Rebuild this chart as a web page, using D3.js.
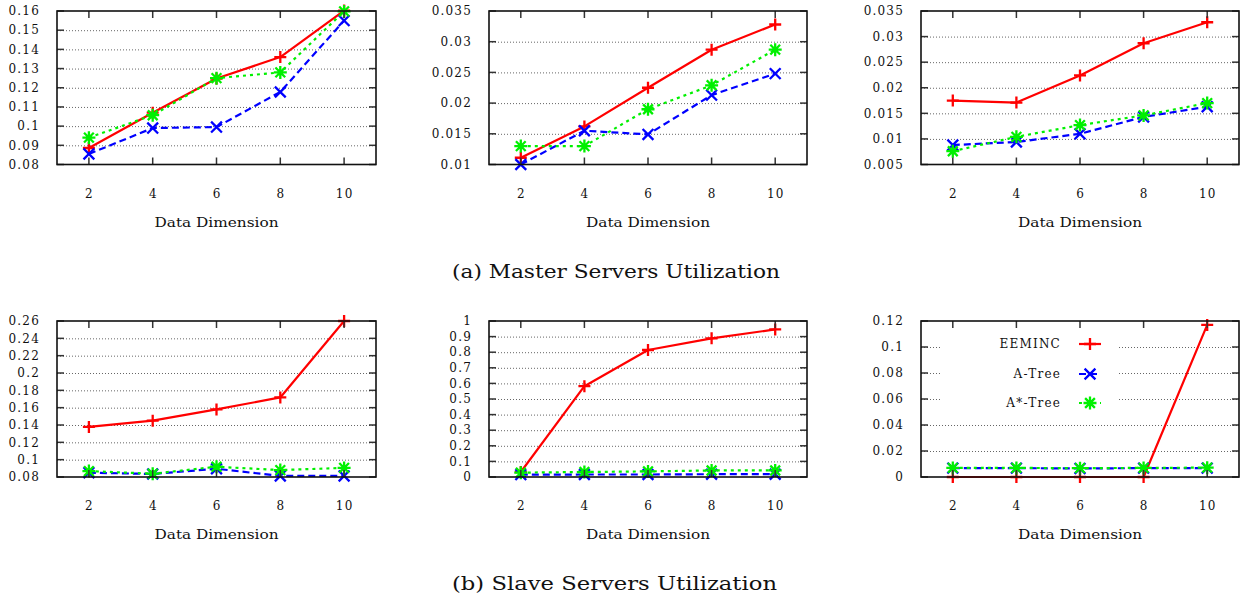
<!DOCTYPE html>
<html>
<head>
<meta charset="utf-8">
<script src="https://cdn.jsdelivr.net/npm/d3@7"></script>
<style>
  html, body { margin: 0; padding: 0; background: #fff; }
  svg { display: block; }
  text { font-family: "DejaVu Serif", serif; fill: #111; }
</style>
</head>
<body>
<svg id="chart" width="1245" height="598"></svg>
<script>
// ---------------- DATA ----------------
const dimensions = [2, 4, 6, 8, 10];
const seriesNames = ["EEMINC", "A-Tree", "A*-Tree"];

// (a) Master servers utilization
const masterP1_EEMINC = [0.0886, 0.107, 0.1248, 0.136, 0.1602];
const masterP1_ATree  = [0.0855, 0.099, 0.0995, 0.1178, 0.155];
const masterP1_AStar  = [0.094, 0.1057, 0.125, 0.128, 0.1598];

const masterP2_EEMINC = [0.0111, 0.0162, 0.0225, 0.0287, 0.0328];
const masterP2_ATree  = [0.0100, 0.0155, 0.0149, 0.0213, 0.0248];
const masterP2_AStar  = [0.0130, 0.0130, 0.0190, 0.0229, 0.0287];

const masterP3_EEMINC = [0.0175, 0.0171, 0.0224, 0.0287, 0.0328];
const masterP3_ATree  = [0.0088, 0.0094, 0.0110, 0.0143, 0.0163];
const masterP3_AStar  = [0.0076, 0.0104, 0.0127, 0.0146, 0.0170];

// (b) Slave servers utilization
const slaveP1_EEMINC = [0.1378, 0.1450, 0.1580, 0.1718, 0.2600];
const slaveP1_ATree  = [0.0850, 0.0835, 0.0895, 0.0812, 0.0812];
const slaveP1_AStar  = [0.0868, 0.0838, 0.0918, 0.0880, 0.0905];

const slaveP2_EEMINC = [0.032, 0.582, 0.814, 0.889, 0.946];
const slaveP2_ATree  = [0.015, 0.016, 0.016, 0.018, 0.018];
const slaveP2_AStar  = [0.028, 0.032, 0.036, 0.042, 0.042];

const slaveP3_EEMINC = [0, 0, 0, 0, 0.117];
const slaveP3_ATree  = [0.0068, 0.0068, 0.0066, 0.0068, 0.0068];
const slaveP3_AStar  = [0.0070, 0.0070, 0.0068, 0.0070, 0.0072];

// y-axis ticks (values and labels)
const ticksMasterP1 = [0.08, 0.09, 0.10, 0.11, 0.12, 0.13, 0.14, 0.15, 0.16];
const labelsMasterP1 = ["0.08", "0.09", "0.1", "0.11", "0.12", "0.13", "0.14", "0.15", "0.16"];
const ticksMasterP2 = [0.01, 0.015, 0.02, 0.025, 0.03, 0.035];
const labelsMasterP2 = ["0.01", "0.015", "0.02", "0.025", "0.03", "0.035"];
const ticksMasterP3 = [0.005, 0.01, 0.015, 0.02, 0.025, 0.03, 0.035];
const labelsMasterP3 = ["0.005", "0.01", "0.015", "0.02", "0.025", "0.03", "0.035"];
const ticksSlaveP1 = [0.08, 0.10, 0.12, 0.14, 0.16, 0.18, 0.20, 0.22, 0.24, 0.26];
const labelsSlaveP1 = ["0.08", "0.1", "0.12", "0.14", "0.16", "0.18", "0.2", "0.22", "0.24", "0.26"];
const ticksSlaveP2 = [0, 0.1, 0.2, 0.3, 0.4, 0.5, 0.6, 0.7, 0.8, 0.9, 1];
const labelsSlaveP2 = ["0", "0.1", "0.2", "0.3", "0.4", "0.5", "0.6", "0.7", "0.8", "0.9", "1"];
const ticksSlaveP3 = [0, 0.02, 0.04, 0.06, 0.08, 0.10, 0.12];
const labelsSlaveP3 = ["0", "0.02", "0.04", "0.06", "0.08", "0.1", "0.12"];

const xLabel = "Data Dimension";
const captionA = "(a) Master Servers Utilization";
const captionB = "(b) Slave Servers Utilization";

// ---------------- LAYOUT / STYLE ----------------
const cols = [{x0: 57, x1: 376}, {x0: 489, x1: 807}, {x0: 921, x1: 1239}];
const rows = [{y0: 11, y1: 164.5}, {y0: 321, y1: 477}];
const styles = [
  {color: "#ff0000", dash: null, marker: "plus", size: 6},
  {color: "#0000ff", dash: "7,4", marker: "cross", size: 6},
  {color: "#00f000", dash: "3,4", marker: "star", size: 6.5}
];

const panels = [
  {r: 0, c: 0, series: [masterP1_EEMINC, masterP1_ATree, masterP1_AStar], ticks: ticksMasterP1, labels: labelsMasterP1},
  {r: 0, c: 1, series: [masterP2_EEMINC, masterP2_ATree, masterP2_AStar], ticks: ticksMasterP2, labels: labelsMasterP2},
  {r: 0, c: 2, series: [masterP3_EEMINC, masterP3_ATree, masterP3_AStar], ticks: ticksMasterP3, labels: labelsMasterP3},
  {r: 1, c: 0, series: [slaveP1_EEMINC, slaveP1_ATree, slaveP1_AStar], ticks: ticksSlaveP1, labels: labelsSlaveP1},
  {r: 1, c: 1, series: [slaveP2_EEMINC, slaveP2_ATree, slaveP2_AStar], ticks: ticksSlaveP2, labels: labelsSlaveP2},
  {r: 1, c: 2, series: [slaveP3_EEMINC, slaveP3_ATree, slaveP3_AStar], ticks: ticksSlaveP3, labels: labelsSlaveP3, legend: true}
];

const svg = d3.select("#chart");

function markerPath(type, s) {
  const p = d3.path();
  if (type === "plus" || type === "star") {
    p.moveTo(-s, 0); p.lineTo(s, 0);
    p.moveTo(0, -s); p.lineTo(0, s);
  }
  if (type === "cross" || type === "star") {
    const t = type === "star" ? s * 0.75 : s * 0.9;
    p.moveTo(-t, -t); p.lineTo(t, t);
    p.moveTo(-t, t); p.lineTo(t, -t);
  }
  return p.toString();
}

panels.forEach(pn => {
  const col = cols[pn.c], row = rows[pn.r];
  const x = d3.scaleLinear().domain([1, 11]).range([col.x0, col.x1]);
  const yDom = d3.extent(pn.ticks);
  const y = d3.scaleLinear().domain(yDom).range([row.y1, row.y0]);
  const g = svg.append("g");

  // grid (horizontal dotted)
  const gridAxis = d3.axisLeft(y).tickValues(pn.ticks.filter(t => t !== yDom[0] && t !== yDom[1]))
    .tickSize(-(col.x1 - col.x0)).tickFormat("");
  const grid = g.append("g").attr("transform", `translate(${col.x0},0)`).call(gridAxis);
  grid.select(".domain").remove();
  grid.selectAll("line").attr("stroke", "#666").attr("stroke-width", 1).attr("stroke-dasharray", "1,2");

  // legend background
  if (pn.legend) {
    g.append("rect").attr("x", 940).attr("y", 329).attr("width", 177).attr("height", 86).attr("fill", "#fff");
  }

  // series lines
  pn.series.forEach((vals, i) => {
    const st = styles[i];
    const line = d3.line().x((d, k) => x(dimensions[k])).y(d => y(d));
    g.append("path").datum(vals).attr("d", line)
      .attr("fill", "none").attr("stroke", st.color).attr("stroke-width", 2.2)
      .attr("stroke-dasharray", st.dash).attr("stroke-linejoin", "round");
    g.selectAll(null).data(vals).enter().append("path")
      .attr("transform", (d, k) => `translate(${x(dimensions[k])},${y(d)})`)
      .attr("d", markerPath(st.marker, st.size))
      .attr("fill", "none").attr("stroke", st.color).attr("stroke-width", 2.3);
  });

  // ticks (inward, mirrored)
  const tl = 7;
  const tickG = g.append("g").attr("stroke", "#333").attr("stroke-width", 1.5);
  dimensions.forEach(d => {
    tickG.append("line").attr("x1", x(d)).attr("x2", x(d)).attr("y1", row.y1).attr("y2", row.y1 - tl);
    tickG.append("line").attr("x1", x(d)).attr("x2", x(d)).attr("y1", row.y0).attr("y2", row.y0 + tl);
  });
  pn.ticks.forEach(t => {
    tickG.append("line").attr("x1", col.x0).attr("x2", col.x0 + tl).attr("y1", y(t)).attr("y2", y(t));
    tickG.append("line").attr("x1", col.x1).attr("x2", col.x1 - tl).attr("y1", y(t)).attr("y2", y(t));
  });

  // frame
  g.append("rect").attr("x", col.x0).attr("y", row.y0)
    .attr("width", col.x1 - col.x0).attr("height", row.y1 - row.y0)
    .attr("fill", "none").attr("stroke", "#111").attr("stroke-width", 1.6);

  // y tick labels
  g.selectAll(null).data(pn.ticks).enter().append("text")
    .attr("x", col.x0 - 17).attr("y", t => y(t)).attr("dy", "0.35em")
    .attr("text-anchor", "end").attr("font-size", 12).attr("letter-spacing", 1.2)
    .text((t, i) => pn.labels[i]);

  // x tick labels
  g.selectAll(null).data(dimensions).enter().append("text")
    .attr("x", d => x(d) + 0.6).attr("y", row.y1 + 33)
    .attr("text-anchor", "middle").attr("font-size", 12).attr("letter-spacing", 1.2)
    .text(d => String(d));

  // x title
  g.append("text").attr("x", (col.x0 + col.x1) / 2).attr("y", row.y1 + 62)
    .attr("text-anchor", "middle").attr("font-size", 12)
    .attr("textLength", 124).attr("lengthAdjust", "spacingAndGlyphs")
    .text(xLabel);

  // legend
  if (pn.legend) {
    const ly = [344, 374, 403];
    seriesNames.forEach((nm, i) => {
      const st = styles[i];
      g.append("text").attr("x", 1061).attr("y", ly[i]).attr("dy", "0.35em")
        .attr("text-anchor", "end").attr("font-size", 12).attr("letter-spacing", 1.2).text(nm);
      g.append("line").attr("x1", 1079).attr("x2", 1101).attr("y1", ly[i]).attr("y2", ly[i])
        .attr("stroke", st.color).attr("stroke-width", 2.2).attr("stroke-dasharray", st.dash);
      g.append("path").attr("transform", `translate(1090,${ly[i]})`)
        .attr("d", markerPath(st.marker, st.size))
        .attr("fill", "none").attr("stroke", st.color).attr("stroke-width", 2.3);
    });
  }
});

// captions
svg.append("text").attr("x", 452).attr("y", 278).attr("font-size", 19)
  .attr("font-family", "Liberation Serif, serif")
  .attr("textLength", 328).attr("lengthAdjust", "spacingAndGlyphs").text(captionA);
svg.append("text").attr("x", 452).attr("y", 590).attr("font-size", 19)
  .attr("font-family", "Liberation Serif, serif")
  .attr("textLength", 325).attr("lengthAdjust", "spacingAndGlyphs").text(captionB);
</script>
</body>
</html>
